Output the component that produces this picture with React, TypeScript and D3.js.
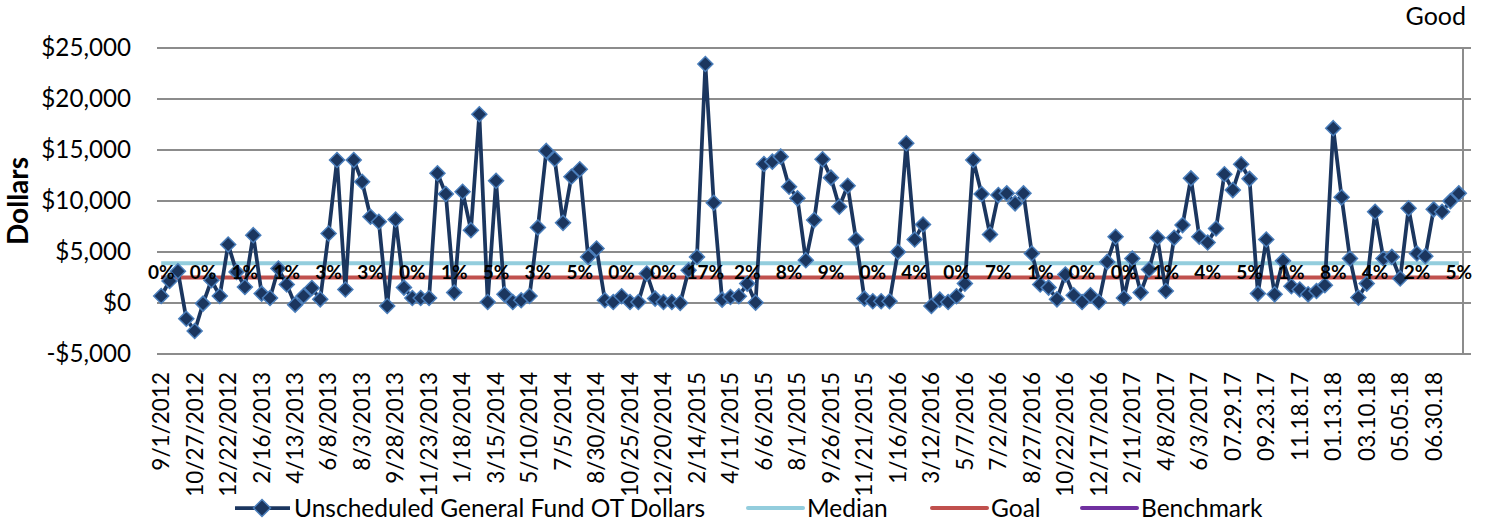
import React from "react";
import * as d3 from "d3";

const xTickLabels = [
  "9/1/2012", "10/27/2012", "12/22/2012", "2/16/2013", "4/13/2013", "6/8/2013", "8/3/2013",
  "9/28/2013", "11/23/2013", "1/18/2014", "3/15/2014", "5/10/2014", "7/5/2014", "8/30/2014",
  "10/25/2014", "12/20/2014", "2/14/2015", "4/11/2015", "6/6/2015", "8/1/2015", "9/26/2015",
  "11/21/2015", "1/16/2016", "3/12/2016", "5/7/2016", "7/2/2016", "8/27/2016", "10/22/2016",
  "12/17/2016", "2/11/2017", "4/8/2017", "6/3/2017", "07.29.17", "09.23.17", "11.18.17",
  "01.13.18", "03.10.18", "05.05.18", "06.30.18",
];

const otDollars = [
  690, 2160, 3115, -1535, -2750, -60, 2230, 690, 5740, 3050,
  1570, 6650, 920, 490, 3380, 1810, -160, 690, 1470, 360,
  6820, 14020, 1320, 14020, 11890, 8450, 7960, -290, 8190, 1510,
  490, 490, 490, 12720, 10680, 1020, 10910, 7140, 18510, 100,
  11990, 850, 100, 270, 690, 7410, 14910, 14120, 7860, 12380,
  13110, 4520, 5340, 270, 100, 660, 100, 100, 2890, 430,
  100, 100, 0, 3210, 4520, 23430, 9830, 330, 590, 660,
  1900, 40, 13630, 13860, 14350, 11400, 10260, 4200, 8130, 14090,
  12290, 9430, 11500, 6230, 430, 170, 170, 170, 5010, 15660,
  6230, 7700, -290, 330, 100, 660, 1900, 14020, 10680, 6720,
  10580, 10750, 9770, 10750, 4850, 1810, 1510, 360, 2790, 760,
  100, 760, 100, 4030, 6490, 490, 4360, 1020, 3280, 6390,
  1180, 6390, 7640, 12220, 6490, 5930, 7310, 12620, 11070, 13600,
  12170, 920, 6230, 850, 4130, 1640, 1320, 850, 1180, 1740,
  17140, 10360, 4360, 530, 1900, 8940, 4360, 4520, 2400, 9280,
  4850, 4590, 9180, 8940, 9990, 10750,
];

const pctLabels = [
  "0%", "0%", "1%", "1%", "3%", "3%", "0%", "1%", "5%", "3%", "5%", "0%", "0%", "17%", "2%", "8%",
  "9%", "0%", "4%", "0%", "7%", "1%", "0%", "0%", "1%", "4%", "5%", "1%", "8%", "4%", "2%", "5%",
];

const medianValue = 3900;
const goalValue = 2500;
const yTicks = [-5000, 0, 5000, 10000, 15000, 20000, 25000];

const legendItems = [
  { name: "Unscheduled General Fund OT Dollars", color: "#1B365F", marker: true },
  { name: "Median", color: "#93CDDD", marker: false },
  { name: "Goal", color: "#C0504D", marker: false },
  { name: "Benchmark", color: "#7030A0", marker: false },
];

const W = 1486;
const H = 529;
const FONT = "Lato, 'Open Sans', sans-serif";

export default function App() {
  const left = 157;
  const right = 1463;
  const top = 48;
  const bottom = 354;
  const idx = otDollars.map((_, i) => i);
  const x = d3.scalePoint<number>().domain(idx).range([left, right]).padding(0.5);
  const y = d3.scaleLinear().domain([-5000, 25000]).range([bottom, top]);
  const fmt = (v: number) => (v < 0 ? "-$" : "$") + d3.format(",")(Math.abs(v));

  const line = d3
    .line<number>()
    .x((_, i) => x(i) as number)
    .y((d) => y(d));

  const x0 = x(0) as number;
  const xN = x(otDollars.length - 1) as number;
  const diamond = (cx: number, cy: number, r: number) =>
    `M${cx},${cy - r}L${cx + r},${cy}L${cx},${cy + r}L${cx - r},${cy}Z`;

  const legendX = [235, 748, 932, 1082];
  const legendY = 508;

  return (
    <svg width={W} height={H} style={{ display: "block", position: "absolute", left: 0, top: 0 }} fontFamily={FONT}>
      <rect x={0} y={0} width={W} height={H} fill="#fff" />
      {/* gridlines */}
      {yTicks.map((t) => (
        <line key={t} x1={left} x2={right + 8} y1={y(t)} y2={y(t)} stroke="#8C8C8C" strokeWidth={2} />
      ))}
      <line x1={right} x2={right} y1={top} y2={bottom} stroke="#8C8C8C" strokeWidth={2} />
      {/* y tick labels */}
      {yTicks.map((t) => (
        <text key={t} x={131} y={y(t)} dy="0.35em" textAnchor="end" fontSize={24.2} fill="#000">
          {fmt(t)}
        </text>
      ))}
      <text
        transform={`translate(18,${(top + bottom) / 2}) rotate(-90)`}
        textAnchor="middle"
        dy="0.35em"
        fontSize={28}
        fontWeight="bold"
        fill="#000"
      >
        Dollars
      </text>
      <text x={1466} y={25} textAnchor="end" fontSize={25} fill="#000">
        Good
      </text>
      {/* x tick labels */}
      {xTickLabels.map((lab, k) => (
        <text
          key={k}
          transform={`translate(${x(k * 4)},372) rotate(-90)`}
          textAnchor="end"
          dy="0.35em"
          fontSize={22.5}
          fill="#000"
        >
          {lab}
        </text>
      ))}
      {/* median & goal */}
      <line x1={x0} x2={xN} y1={y(medianValue)} y2={y(medianValue)} stroke="#93CDDD" strokeWidth={4} />
      <line x1={x0} x2={xN} y1={y(goalValue)} y2={y(goalValue)} stroke="#C0504D" strokeWidth={4} />
      {/* series */}
      <path d={line(otDollars) || ""} fill="none" stroke="#1B365F" strokeWidth={3.75} strokeLinejoin="round" />
      {otDollars.map((v, i) => (
        <path key={i} d={diamond(x(i) as number, y(v), 7.5)} fill="#1B365F" stroke="#4A7EBB" strokeWidth={1.5} />
      ))}
      {/* percent labels */}
      {pctLabels.map((p, k) => (
        <text key={k} x={x(k * 5)} y={279} textAnchor="middle" fontSize={19} fontWeight="bold" fill="#000">
          {p}
        </text>
      ))}
      {/* legend */}
      {legendItems.map((it, k) => (
        <g key={it.name}>
          <line
            x1={legendX[k]}
            x2={legendX[k] + 55}
            y1={legendY}
            y2={legendY}
            stroke={it.color}
            strokeWidth={it.marker ? 3.75 : 4}
            strokeLinecap={it.marker ? "butt" : "round"}
          />
          {it.marker && (
            <path d={diamond(legendX[k] + 27, legendY, 8.5)} fill="#1B365F" stroke="#4A7EBB" strokeWidth={1.5} />
          )}
          <text x={legendX[k] + 59} y={legendY} dy="0.35em" fontSize={24.5} fill="#000">
            {it.name}
          </text>
        </g>
      ))}
    </svg>
  );
}
